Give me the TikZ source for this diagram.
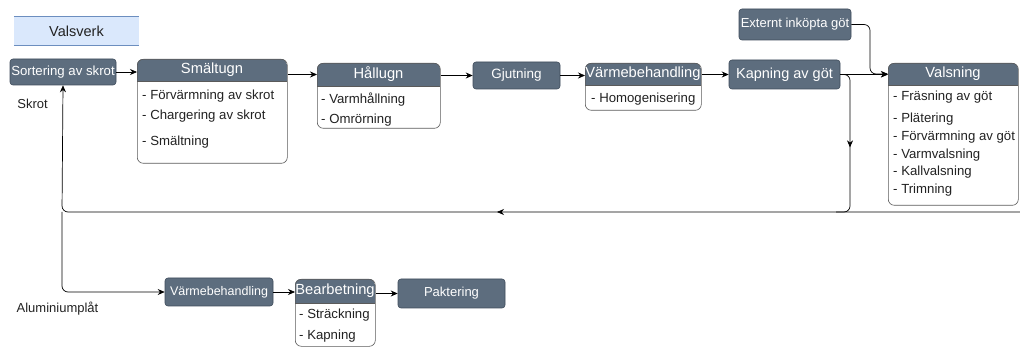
\documentclass[tikz,border=0pt]{standalone}
\usepackage{fontspec}
\setmainfont{Liberation Sans}
\usetikzlibrary{arrows.meta,decorations.markings,calc}

\definecolor{slate}{HTML}{5D6D7E}
\definecolor{slateline}{HTML}{3E4B5A}
\definecolor{laneline}{HTML}{5A5A5A}
\definecolor{lblue}{HTML}{DAE8FC}
\definecolor{bline}{HTML}{6C8EBF}
\definecolor{txt}{HTML}{222222}

\tikzset{
  procbox/.style={draw=slateline, fill=slate, rounded corners=3pt, text=white,
    inner sep=0pt, line width=0.6pt},
  lanetitle/.style={text=white, inner sep=0pt, font=\fontsize{14.7}{16}\selectfont},
  item/.style={anchor=west, inner sep=0pt, text=txt, font=\fontsize{13.2}{15}\selectfont},
  plain/.style={inner sep=0pt, text=txt, font=\fontsize{13}{15}\selectfont},
  flow/.style={draw=black, line width=0.7pt, -{Stealth[length=7pt,width=6pt]}},
  line/.style={draw=black, line width=0.7pt},
  midtip/.style={postaction={decorate}, decoration={markings,
    mark=at position #1 with {\arrow{Stealth[length=7pt,width=6pt]}}}}
}

% swimlane: name, left x, top y, width, total height, header height, title
\newcommand\swimlane[7]{%
  \begin{scope}
    \clip[rounded corners=6pt] (#2,#3) rectangle ++(#4,#5);
    \fill[white] (#2,#3) rectangle ++(#4,#5);
    \fill[slate] (#2,#3) rectangle ++(#4,#6);
  \end{scope}
  \draw[laneline, line width=0.6pt] (#2,#3+#6) -- ++(#4,0);
  \node[draw=laneline, line width=0.6pt, rounded corners=6pt, minimum width=#4pt,
    minimum height=#5pt, anchor=north west, inner sep=0pt] (#1) at (#2,#3) {};
  \node[lanetitle] (#1-t) at (#2+#4/2,#3+#6/2) {#7};
}

\begin{document}
\begin{tikzpicture}[x=1pt,y=-1pt]
\useasboundingbox (0,0) rectangle (1020,347);

% title
\node[fill=lblue, minimum width=125pt, minimum height=28pt, inner sep=0pt,
  text=txt, font=\fontsize{14.5}{16}\selectfont] (title) at (76.5,31) {Valsverk};
\draw[bline, line width=0.8pt] (title.north west) -- (title.north east);
\draw[bline, line width=0.8pt] (title.south west) -- (title.south east);

% upper process chain
\node[procbox, minimum width=106pt, minimum height=26pt,
  font=\fontsize{13.2}{15}\selectfont] (sort) at (63,72) {Sortering av skrot};

\swimlane{smelt}{137}{59}{150}{104}{22}{Smältugn}
\node[item] (smelt-1) at (142,96) {- Förvärmning av skrot};
\node[item] (smelt-2) at (142,116) {- Chargering av skrot};
\node[item] (smelt-3) at (142,142) {- Smältning};

\swimlane{hall}{317}{63}{123}{65}{23}{Hållugn}
\node[item] (hall-1) at (321,100) {- Varmhållning};
\node[item] (hall-2) at (321,120) {- Omrörning};

\node[procbox, minimum width=87pt, minimum height=27pt,
  font=\fontsize{13.5}{15}\selectfont] (gjut) at (516.5,75.5) {Gjutning};

\swimlane{varme}{585}{63}{116}{47}{22}{Värmebehandling}
\node[item] (varme-1) at (591,99) {- Homogenisering};

\node[procbox, minimum width=111pt, minimum height=29pt,
  font=\fontsize{14.5}{16}\selectfont] (kap) at (784.5,74.5) {Kapning av göt};
\node[procbox, minimum width=112pt, minimum height=31pt,
  font=\fontsize{13}{15}\selectfont] (ext) at (795,24.5) {Externt inköpta göt};

\swimlane{vals}{888}{63}{130}{142}{22}{Valsning}
\node[item] (vals-1) at (893,97) {- Fräsning av göt};
\node[item] (vals-2) at (893,119) {- Plätering};
\node[item] (vals-3) at (893,137.5) {- Förvärmning av göt};
\node[item] (vals-4) at (893,155) {- Varmvalsning};
\node[item] (vals-5) at (893,172.5) {- Kallvalsning};
\node[item] (vals-6) at (893,190) {- Trimning};

% lower process chain
\node[procbox, minimum width=108pt, minimum height=28pt,
  font=\fontsize{12.5}{14}\selectfont] (vbeh) at (219,292) {Värmebehandling};
\swimlane{bear}{295}{279}{80}{67}{24}{Bearbetning}
\node[item] (bear-1) at (299,315) {- Sträckning};
\node[item] (bear-2) at (299,336) {- Kapning};
\node[procbox, minimum width=107pt, minimum height=29pt,
  font=\fontsize{13}{15}\selectfont] (pak) at (451.5,293.5) {Paktering};

% free labels
\node[plain] (skrot) at (32.5,104) {Skrot};
\node[plain] (alu) at (57.5,309) {Aluminiumplåt};

% routing points
\coordinate (retR) at (1020,212);
\coordinate (retL) at (62,212);
\coordinate (kdrop) at (850,212);
\coordinate (edrop) at (870,74);

% connectors of the upper chain
\draw[flow] (sort.east) -- (sort.east -| smelt.west);
\draw[flow] (smelt.east |- hall-t) -- (hall-t -| hall.west);
\draw[flow] (hall.east |- gjut) -- (gjut.west);
\draw[flow] (gjut.east) -- (gjut.east -| varme.west);
\draw[flow] (varme.east |- kap) -- (kap.west);
\draw[flow] (kap.east) -- (kap.east -| vals.west);
\draw[flow, rounded corners=6pt] (ext.east) -| (edrop) -- (edrop -| vals.west);

% return line back to scrap sorting and on to plate
\draw[line, rounded corners=6pt, midtip=80pt] (kap.east) -| (kdrop) -- ($(kdrop)+(-14,0)$);
\draw[flow, rounded corners=6pt, midtip=523pt] (retR) -- (retL) -- (sort.south);
\draw[flow, rounded corners=6pt] (retL) |- (vbeh.west);

% connectors of the lower chain
\draw[flow] (vbeh.east) -- (vbeh.east -| bear.west);
\draw[flow] (bear.east |- pak) -- (pak.west);
\end{tikzpicture}
\end{document}
